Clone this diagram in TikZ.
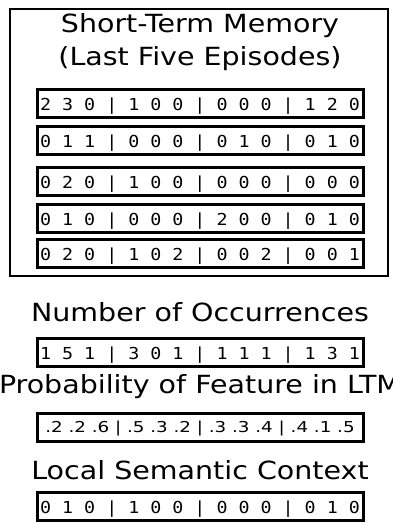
\documentclass[tikz,border=0pt]{standalone}
\usepackage{fontspec}
\setmainfont[FakeStretch=1.14]{DejaVu Sans}
\newfontfamily\rowfont[FakeStretch=1.11]{DejaVu Sans Mono}
\newfontfamily\probfont[FakeStretch=1.22]{DejaVu Sans}
\begin{document}
\begin{tikzpicture}[x=1pt,y=-1pt,
  title/.style={font=\fontsize{25}{29}\selectfont, anchor=base, inner sep=0pt},
  outerbox/.style={draw, line width=2pt, inner sep=0pt},
  rowbox/.style={draw, line width=3pt, minimum width=326pt, minimum height=28pt, inner sep=0pt,
    text height=14pt, text depth=0pt, font=\rowfont\fontsize{16.5}{18}\selectfont},
  probbox/.style={rowbox, text height=11pt, font=\probfont\fontsize{15}{17}\selectfont},
]
\useasboundingbox (0,0) rectangle (393,523);
\clip (0,0) rectangle (393,523);
\node[outerbox, minimum width=378pt, minimum height=266.5pt] (stm) at (199,142.25) {};
\node[title] (t1) at (200,32) {Short-Term Memory};
\node[title] (t2) at (200,65) {(Last Five Episodes)};
\node[rowbox] (r1) at (200,103.5) {2 3 0 | 1 0 0 | 0 0 0 | 1 2 0};
\node[rowbox] (r2) at (200,140) {0 1 1 | 0 0 0 | 0 1 0 | 0 1 0};
\node[rowbox] (r3) at (200,181) {0 2 0 | 1 0 0 | 0 0 0 | 0 0 0};
\node[rowbox] (r4) at (200,218.5) {0 1 0 | 0 0 0 | 2 0 0 | 0 1 0};
\node[rowbox] (r5) at (200,253) {0 2 0 | 1 0 2 | 0 0 2 | 0 0 1};
\node[title] (t3) at (200,321) {Number of Occurrences};
\node[rowbox] (occ) at (200,352.5) {1 5 1 | 3 0 1 | 1 1 1 | 1 3 1};
\node[title] (t4) at (200,393) {Probability of Feature in LTM};
\node[probbox] (prob) at (200,427) {.2 .2 .6 | .5 .3 .2 | .3 .3 .4 | .4 .1 .5};
\node[title] (t5) at (200,479) {Local Semantic Context};
\node[rowbox] (lsc) at (200,506.75) {0 1 0 | 1 0 0 | 0 0 0 | 0 1 0};
\end{tikzpicture}
\end{document}
